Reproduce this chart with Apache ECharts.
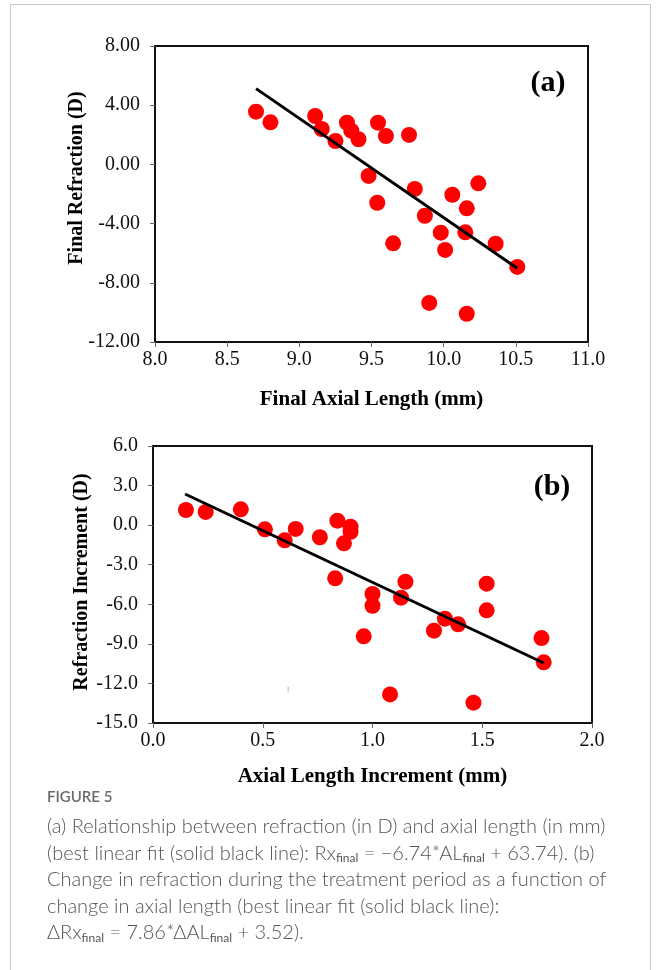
<!DOCTYPE html>
<html>
<head>
<meta charset="utf-8">
<script src="https://cdn.jsdelivr.net/npm/echarts@6/dist/echarts.min.js"></script>
<style>
html,body{margin:0;padding:0;background:#fff;}
#c{width:656px;height:970px;}
</style>
</head>
<body>
<div id="c"></div>
<script>
// Panel (a): final axial length (mm) vs final refraction (D)
const alA = [8.70, 8.80, 9.11, 9.155, 9.25, 9.33, 9.36, 9.41, 9.545, 9.60, 9.76, 9.48, 9.54, 9.80, 10.24, 10.06, 10.16, 9.87, 9.98, 10.15, 9.65, 10.01, 10.36, 10.51, 9.90, 10.16];
const rxA = [3.56, 2.84, 3.27, 2.39, 1.58, 2.82, 2.28, 1.70, 2.82, 1.92, 1.99, -0.78, -2.59, -1.66, -1.28, -2.05, -2.97, -3.47, -4.61, -4.59, -5.33, -5.78, -5.36, -6.93, -9.36, -10.09];
const fitAX = [8.70, 10.51];
const fitAY = [5.12, -7.02];

// Panel (b): axial length increment (mm) vs refraction increment (D)
const alB = [0.15, 0.24, 0.40, 0.51, 0.60, 0.65, 0.76, 0.84, 0.90, 0.90, 0.87, 0.83, 1.00, 1.00, 1.15, 1.13, 0.96, 1.33, 1.39, 1.28, 1.52, 1.52, 1.77, 1.78, 1.08, 1.46];
const rxB = [1.15, 1.00, 1.20, -0.32, -1.15, -0.29, -0.92, 0.34, -0.12, -0.50, -1.38, -4.03, -5.22, -6.11, -4.29, -5.50, -8.43, -7.09, -7.52, -8.00, -4.44, -6.46, -8.56, -10.40, -12.83, -13.46];
const fitBX = [0.146, 1.78];
const fitBY = [2.36, -10.45];

// Axis ranges / ticks
const xRangeA = [8.0, 11.0, 0.5];
const yRangeA = [-12, 8, 4];
const xRangeB = [0.0, 2.0, 0.5];
const yRangeB = [-15, 6, 3];

const titles = {
  xA: 'Final Axial Length (mm)',
  yA: 'Final Refraction (D)',
  xB: 'Axial Length Increment (mm)',
  yB: 'Refraction Increment (D)'
};

const captionHead = 'FIGURE 5';
const captionLines = [
  '(a) Relationship between refraction (in D) and axial length (in mm)',
  '(best linear fit (solid black line): Rx{s|final} = \u22126.74*AL{s|final} + 63.74). (b)',
  'Change in refraction during the treatment period as a function of',
  'change in axial length (best linear fit (solid black line):',
  '\u0394Rx{s|final} = 7.86*\u0394AL{s|final} + 3.52).'
];

const serif = '"Liberation Serif", "Times New Roman", serif';
const tickLbl = {fontFamily: serif, fontSize: 20, color: '#111'};
const nameStyle = {fontFamily: serif, fontSize: 21, fontWeight: 'bold', color: '#000'};

function xAxis(idx, r, name, dec, gap) {
  return {
    type: 'value', gridIndex: idx, min: r[0], max: r[1], interval: r[2],
    name: name, nameLocation: 'middle', nameGap: gap, nameTextStyle: nameStyle,
    axisLine: {show: true, onZero: false, lineStyle: {color: '#111', width: 2}},
    axisTick: {show: true, inside: false, length: 5, lineStyle: {color: '#666', width: 1}},
    axisLabel: Object.assign({margin: 8, formatter: v => v.toFixed(dec)}, tickLbl),
    splitLine: {show: false}
  };
}
function yAxis(idx, r, dec) {
  return {
    type: 'value', gridIndex: idx, min: r[0], max: r[1], interval: r[2],
    axisLine: {show: true, onZero: false, lineStyle: {color: '#111', width: 2}},
    axisTick: {show: true, inside: false, length: 5, lineStyle: {color: '#666', width: 1}},
    axisLabel: Object.assign({margin: 15, formatter: v => v.toFixed(dec)}, tickLbl),
    splitLine: {show: false}
  };
}

const chart = echarts.init(document.getElementById('c'), null, {renderer: 'canvas'});

const graphics = [
  {type: 'rect', shape: {x: 10.5, y: 4.5, width: 640, height: 1100}, style: {fill: 'none', stroke: '#c8c8c8', lineWidth: 1}, silent: true},
  {type: 'text', x: 77, y: 178, rotation: Math.PI / 2, style: {text: titles.yA, align: 'center', verticalAlign: 'middle', font: 'bold 20px ' + serif, fill: '#000'}},
  {type: 'text', x: 82, y: 582, rotation: Math.PI / 2, style: {text: titles.yB, align: 'center', verticalAlign: 'middle', font: 'bold 20px ' + serif, fill: '#000'}},
  {type: 'text', x: 548, y: 83, style: {text: '(a)', align: 'center', verticalAlign: 'middle', font: 'bold 30px ' + serif, fill: '#000'}},
  {type: 'text', x: 552, y: 487, style: {text: '(b)', align: 'center', verticalAlign: 'middle', font: 'bold 30px ' + serif, fill: '#000'}},
  {type: 'text', x: 288, y: 690, style: {text: '!', align: 'center', verticalAlign: 'middle', font: '8px sans-serif', fill: '#888'}},
  {type: 'text', x: 47, y: 797, style: {text: captionHead, align: 'left', verticalAlign: 'middle', font: '600 15px Lato, "Open Sans", sans-serif', fill: '#6a6a6a'}}
];
const capY0 = 827, capDy = 26.5;
captionLines.forEach((t, i) => {
  graphics.push({
    type: 'text', x: 47, y: capY0 + i * capDy,
    style: {
      text: t, align: 'left', verticalAlign: 'middle',
      fontFamily: 'Lato, "Open Sans", sans-serif', fontSize: 20, fontWeight: 300, fill: '#555',
      rich: {s: {fontFamily: 'Lato, sans-serif', fontSize: 12, fill: '#555', padding: [10, 0, 0, 0]}}
    }
  });
});

chart.setOption({
  animation: false,
  backgroundColor: '#fff',
  grid: [
    {left: 155, top: 46, width: 433, height: 296, show: true, borderColor: '#111', borderWidth: 2, containLabel: false},
    {left: 153, top: 446, width: 439, height: 277, show: true, borderColor: '#111', borderWidth: 2, containLabel: false}
  ],
  xAxis: [xAxis(0, xRangeA, titles.xA, 1, 47), xAxis(1, xRangeB, titles.xB, 1, 43)],
  yAxis: [yAxis(0, yRangeA, 2), yAxis(1, yRangeB, 1)],
  series: [
    {type: 'line', xAxisIndex: 0, yAxisIndex: 0, data: fitAX.map((x, i) => [x, fitAY[i]]), showSymbol: false, symbol: 'none', lineStyle: {color: '#000', width: 3}, z: 3},
    {type: 'scatter', xAxisIndex: 0, yAxisIndex: 0, data: alA.map((x, i) => [x, rxA[i]]), symbolSize: 16, itemStyle: {color: '#ff0000', opacity: 1}, z: 2},
    {type: 'line', xAxisIndex: 1, yAxisIndex: 1, data: fitBX.map((x, i) => [x, fitBY[i]]), showSymbol: false, symbol: 'none', lineStyle: {color: '#000', width: 3}, z: 3},
    {type: 'scatter', xAxisIndex: 1, yAxisIndex: 1, data: alB.map((x, i) => [x, rxB[i]]), symbolSize: 16, itemStyle: {color: '#ff0000', opacity: 1}, z: 2}
  ],
  graphic: graphics
});
</script>
</body>
</html>
